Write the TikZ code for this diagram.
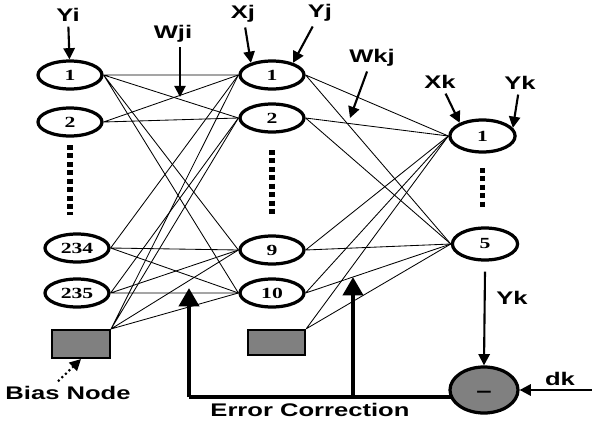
\documentclass[tikz,border=0pt]{standalone}
\usepackage{fontspec}
\newfontfamily\lblfont[FakeStretch=1.4]{Liberation Sans}
\newfontfamily\numfont[FakeStretch=1.4]{Liberation Serif}
\usetikzlibrary{arrows.meta,shapes.geometric}
\tikzset{
	neuron/.style={ellipse, draw, line width=2.3pt, minimum width=1.6cm, minimum height=0.7cm, inner sep=0pt, font=\numfont\bfseries\fontsize{11}{11}\selectfont},
	bigneuron/.style={neuron, minimum width=1.63cm, minimum height=0.8cm},
	biasbox/.style={rectangle, draw, line width=1.5pt, fill=black!50, minimum width=1.45cm, minimum height=0.7cm},
	lbl/.style={font=\lblfont\bfseries\fontsize{13}{13}\selectfont},
	wire/.style={line width=0.6pt},
	pointer/.style={line width=1.5pt, -{Triangle[length=8pt, width=8pt]}},
	dotcol/.style={line width=4pt, dash pattern=on 3.5pt off 2.5pt},
	feedback/.style={line width=3.2pt},
}

\begin{document}
\begin{tikzpicture}[x=0.25cm, y=0.25cm]
		%%%%% START %%%%%
		\useasboundingbox (0, 0) rectangle (59.2, 42.1);
		
		\node[neuron] (i1) at (7.0, 34.6) {1};
		\node[neuron] (i2) at (7.0, 29.9) {2};
		\draw[dotcol] (7.0, 27.6) -- (7.0, 20.6);
		\node[neuron] (i234) at (7.7, 17.3) {234};
		\node[neuron] (i235) at (7.7, 12.8) {235};
		\node[biasbox] (biasi) at (8.1, 7.7) {};
		
		\node[neuron] (j1) at (27.2, 34.6) {1};
		\node[neuron] (j2) at (27.2, 30.3) {2};
		\draw[dotcol] (27.2, 27.1) -- (27.2, 20.6);
		\node[neuron] (j9) at (27.2, 17.1) {9};
		\node[neuron] (j10) at (27.2, 12.8) {10};
		\node[biasbox, minimum width=1.43cm, minimum height=0.63cm] (biasj) at (27.65, 7.85) {};
		
		\node[bigneuron] (k1) at (48.25, 28.5) {1};
		\draw[dotcol] (48.25, 25.3) -- (48.25, 21.1);
		\node[bigneuron] (k5) at (48.5, 17.7) {5};
		
		% input to hidden
		\draw[wire] (i1.east) -- (j1.west) (i1.east) -- (j2.west) (i1.east) -- (j9.west) (i1.east) -- (j10.west);
		\draw[wire] (i2.east) -- (j1.west) (i2.east) -- (j2.west);
		\draw[wire] (i234.east) -- (j1.west) (i234.east) -- (j9.west) (i234.east) -- (j10.west);
		\draw[wire] (i235.east) -- (j2.west) (i235.east) -- (j9.west) (i235.east) -- (j10.west);
		\draw[wire] (biasi.north east) -- (j1.west) (biasi.north east) -- (j2.west) (biasi.north east) -- (j9.west) (biasi.north east) -- (j10.west);
		
		% hidden to output
		\draw[wire] (j1.east) -- (k1.west) (j1.east) -- (k5.west);
		\draw[wire] (j2.east) -- (k1.west) (j2.east) -- (k5.west);
		\draw[wire] (j9.east) -- (k1.west) (j9.east) -- (k5.west);
		\draw[wire] (j10.east) -- (k1.west) (j10.east) -- (k5.west);
		\draw[wire] (biasj.north east) -- (k1.west) (biasj.north east) -- (k5.west);
		
		\node[lbl] (yi) at (6.8, 40.6) {Yi};
		\draw[pointer] (yi) -- (i1);
		\node[lbl] (wji) at (17.3, 38.7) {Wji};
		\coordinate (wjitip) at (18.0, 32.4);
		\draw[pointer] (wji.south -| wjitip) -- (wjitip);
		\node[lbl] (xj) at (24.3, 40.7) {Xj};
		\draw[pointer] (xj) -- (j1.150);
		\node[lbl] (yj) at (32.0, 40.8) {Yj};
		\draw[pointer] (yj) -- (j1.30);
		\node[lbl] (wkj) at (37.2, 36.3) {Wkj};
		\coordinate (wkjtip) at (35.0, 30.3);
		\draw[pointer] (wkj) -- (wkjtip);
		\node[lbl] (xk) at (44.0, 33.9) {Xk};
		\draw[pointer] (xk) -- (k1.150);
		\node[lbl] (ykin) at (52.0, 33.8) {Yk};
		\draw[pointer] (ykin) -- (k1.15);
		
		% error path
		\coordinate (fbl) at (18.9, 2.4);
		\coordinate (fbr) at (35.3, 2.4);
		\draw[feedback] (fbl) -- (45.5, 2.4);
		\draw[feedback, -{Triangle[length=13pt, width=14pt]}] (fbl) -- (18.9, 13.3);
		\draw[feedback, -{Triangle[length=13pt, width=14pt]}] (fbr) -- (35.3, 14.4);
		\node[ellipse, draw, line width=2.3pt, fill=black!50, minimum width=1.7cm, minimum height=1.15cm, inner sep=0pt, font=\lblfont\bfseries\fontsize{14}{14}\selectfont] (diff) at (48.4, 3.1) {\raisebox{-1.5ex}{–}};
		
		\node[lbl] (ykout) at (51.2, 12.3) {Yk};
		\draw[pointer] ([yshift=-2.5mm]k5.south) -- (diff.north);
		
		\coordinate (dkin) at (59.2, 3.1);
		\draw[pointer, line width=1.7pt] (dkin) -- (diff.east);
		\node[lbl] (dk) at (56.0, 4.2) {dk};
		
		\node[lbl] (biaslbl) at (6.8, 2.8) {Bias Node};
		\draw[pointer, dotted] ([xshift=-2.5mm]biaslbl.north) -- (biasi.south);
		
		\node[lbl] (errlbl) at (31.0, 1.1) {Error Correction};
		%%%%% END %%%%%
	\end{tikzpicture}
\end{document}
